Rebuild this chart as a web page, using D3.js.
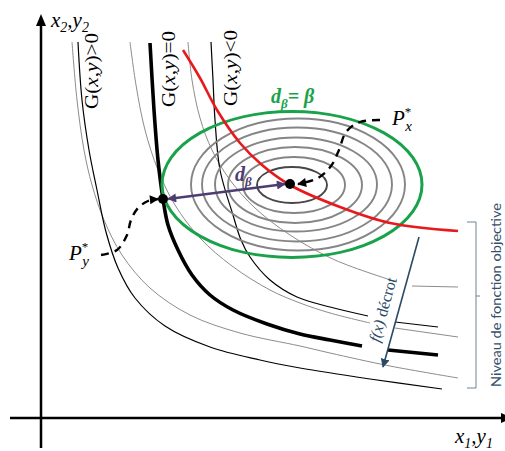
<!DOCTYPE html>
<html><head><meta charset="utf-8">
<script src="https://cdn.jsdelivr.net/npm/d3@7"></script>
<style>html,body{margin:0;padding:0;background:#fff;overflow:hidden}</style>
</head><body>
<svg id="c" width="505" height="451"></svg>
<script>
// ---- data (units from origin, x right, y up) ----
const xAxisExtent = [-31, 470];
const yAxisExtent = [-30, 402];
// constraint curves G(x,y)
const curveGpos = [[37,376],[41,318],[48,268],[56,228],[65,186],[77,150],[94,120],[124,92],[169,71],[219,58],[259,50],[329,39],[401,29]];
const curveGzero1 = [[109,375],[113,308],[117,258],[122,219],[127,193],[137,168],[151,143],[169,123],[192,108],[226,94],[259,84],[289,78],[321,72]];
const curveGzero2 = [[347,68],[397,63]];
const curveGneg1 = [[170,376],[172,338],[174,298],[179,248],[192,203],[200,178],[209,161],[229,138],[256,121],[289,111],[327,102]];
const curveGneg2 = [[354,96],[397,91]];
// objective level lines
const level1 = [[31,376],[36,318],[43,268],[51,233],[63,198],[81,163],[109,130],[149,103],[199,85],[259,72],[289,65],[349,52],[417,40]];
const level2a = [[89,376],[95,333],[104,288],[117,248],[134,213],[159,180],[191,152],[229,128],[259,115],[289,105],[329,95]];
const level2b = [[354,90],[417,81]];
const level3a = [[147,376],[151,338],[159,300],[171,268],[189,238],[214,210],[249,183],[294,158],[356,136]];
const level3b = [[371,132],[417,131]];
// red curve
const redCurve = [[142,368],[159,340],[176,308],[199,275],[221,253],[249,233],[299,211],[349,195],[417,187]];
// ellipses: [cx, cy, rx, ry]
const greenEllipse = [251, 233.5, 130, 73];
const ringCx = [251, 253, 254, 255, 256, 257];
const ringCy = [233, 233, 233, 233.5, 233.5, 233.5];
const ringRx = [35, 51, 67, 81, 95, 107];
const ringRy = [18, 28, 38, 47, 57, 66];
// points
const pointPy = [122, 219];
const pointPx = [249, 234];
// dashed paths
const dashPx = [[339,298],[319,296],[305,286],[298,268],[290,252],[277,240],[257,234]];
const dashPy = [[60,163],[76,168],[86,183],[90,198],[97,210],[107,217],[117,219]];
// f(x) arrow
const fArrow = [[378,181],[342,51]];
// bracket: x, top, bottom, mid, left
const bracket = {x:435, top:196, bottom:30, mid:122, left:426};
const gLabels = [
  {pos:[57,298], op:">"},
  {pos:[134,300], op:"="},
  {pos:[196,301], op:"<"}
];

// ---- scales ----
const x = d3.scaleLinear().domain([0, 464]).range([41, 505]);
const y = d3.scaleLinear().domain([0, 403]).range([418, 15]);
const svg = d3.select("#c");

const defs = svg.append("defs");
function marker(id, color, w, h) {
  defs.append("marker").attr("id", id).attr("viewBox", "0 0 10 10")
    .attr("refX", 9).attr("refY", 5).attr("markerWidth", w).attr("markerHeight", h)
    .attr("orient", "auto-start-reverse").attr("markerUnits", "userSpaceOnUse")
    .append("path").attr("d", "M0,0 L10,5 L0,10 Z").attr("fill", color);
}
marker("mPurple", "#4e3d70", 11, 9);
marker("mBlack", "#000", 10, 9);
marker("mBlue", "#2b4a66", 9, 9);

const line = d3.line().x(d => x(d[0])).y(d => y(d[1])).curve(d3.curveCatmullRom.alpha(0.5));

// axes
svg.append("line").attr("x1", x(xAxisExtent[0])).attr("x2", x(xAxisExtent[1]) - 4)
  .attr("y1", y(0)).attr("y2", y(0)).attr("stroke", "#000").attr("stroke-width", 2.5);
svg.append("line").attr("x1", x(0)).attr("x2", x(0))
  .attr("y1", y(yAxisExtent[0])).attr("y2", y(yAxisExtent[1]) + 6).attr("stroke", "#000").attr("stroke-width", 2.5);
svg.append("path").attr("d", d3.line()([[x(0), y(yAxisExtent[1]) - 2], [x(0) - 5, y(yAxisExtent[1]) + 10], [x(0) + 5, y(yAxisExtent[1]) + 10]]) + "Z").attr("fill", "#000");
svg.append("path").attr("d", d3.line()([[x(xAxisExtent[1]) + 2, y(0)], [x(xAxisExtent[1]) - 10, y(0) - 5], [x(xAxisExtent[1]) - 10, y(0) + 5]]) + "Z").attr("fill", "#000");

// objective level lines (gray thin)
[level1, level2a, level2b, level3a, level3b].forEach(d => {
  svg.append("path").attr("d", line(d)).attr("fill", "none").attr("stroke", "#8c8c8c").attr("stroke-width", 1);
});
// constraint curves
[curveGpos, curveGneg1, curveGneg2].forEach(d => {
  svg.append("path").attr("d", line(d)).attr("fill", "none").attr("stroke", "#000").attr("stroke-width", 1.2);
});
[curveGzero1, curveGzero2].forEach(d => {
  svg.append("path").attr("d", line(d)).attr("fill", "none").attr("stroke", "#000").attr("stroke-width", 3.6);
});

// rings
ringRx.forEach((rx, i) => {
  svg.append("ellipse").attr("cx", x(ringCx[i])).attr("cy", y(ringCy[i]))
    .attr("rx", x(rx) - x(0)).attr("ry", y(0) - y(ringRy[i]))
    .attr("fill", "none").attr("stroke", i === 0 ? "#474747" : "#858585").attr("stroke-width", 1.9);
});
// green ellipse
svg.append("ellipse").attr("cx", x(greenEllipse[0])).attr("cy", y(greenEllipse[1]))
  .attr("rx", x(greenEllipse[2]) - x(0)).attr("ry", y(0) - y(greenEllipse[3]))
  .attr("fill", "none").attr("stroke", "#1aa24b").attr("stroke-width", 3);
// red curve
svg.append("path").attr("d", line(redCurve)).attr("fill", "none").attr("stroke", "#e8191c").attr("stroke-width", 2.6);

// purple distance arrow
svg.append("line").attr("x1", x(pointPy[0]) + 5).attr("y1", y(pointPy[1]))
  .attr("x2", x(pointPx[0]) - 5).attr("y2", y(pointPx[1]))
  .attr("stroke", "#4e3d70").attr("stroke-width", 2.4)
  .attr("marker-start", "url(#mPurple)").attr("marker-end", "url(#mPurple)");

// dashed arrows
[dashPx, dashPy].forEach(d => {
  svg.append("path").attr("d", line(d)).attr("fill", "none").attr("stroke", "#000")
    .attr("stroke-width", 2.4).attr("stroke-dasharray", "8,6").attr("marker-end", "url(#mBlack)");
});

// dots
[pointPy, pointPx].forEach(p => {
  svg.append("circle").attr("cx", x(p[0])).attr("cy", y(p[1])).attr("r", 5).attr("fill", "#000");
});

// f(x) decrot arrow
svg.append("line").attr("x1", x(fArrow[0][0])).attr("y1", y(fArrow[0][1]))
  .attr("x2", x(fArrow[1][0])).attr("y2", y(fArrow[1][1]))
  .attr("stroke", "#2b4a66").attr("stroke-width", 1.6).attr("marker-end", "url(#mBlue)");

// bracket
svg.append("path").attr("d", d3.line()([
  [x(bracket.left), y(bracket.top)], [x(bracket.x), y(bracket.top)],
  [x(bracket.x), y(bracket.bottom)], [x(bracket.left), y(bracket.bottom)]
])).attr("fill", "none").attr("stroke", "#6f8293").attr("stroke-width", 1);
svg.append("line").attr("x1", x(bracket.x)).attr("x2", x(bracket.x) + 4)
  .attr("y1", y(bracket.mid)).attr("y2", y(bracket.mid)).attr("stroke", "#6f8293").attr("stroke-width", 1);

// ---- texts ----
const serif = "'Liberation Serif','DejaVu Serif',serif";
gLabels.forEach(g => {
  const t = svg.append("text").attr("transform", `translate(${x(g.pos[0])},${y(g.pos[1]) - 11}) rotate(-90)`)
    .attr("font-family", serif).attr("font-size", 19).attr("fill", "#000")
    .attr("textLength", 76).attr("lengthAdjust", "spacingAndGlyphs");
  t.append("tspan").text("G(");
  t.append("tspan").attr("font-style", "italic").text("x");
  t.append("tspan").text(",");
  t.append("tspan").attr("font-style", "italic").text("y");
  t.append("tspan").text(")" + g.op + "0");
});

// axis labels
function axisLabel(px, py, a, b, sub) {
  const t = svg.append("text").attr("x", px).attr("y", py).attr("font-family", serif)
    .attr("font-size", 21).attr("font-style", "italic").attr("fill", "#000");
  t.append("tspan").text(a);
  t.append("tspan").attr("font-size", 14).attr("dy", 5).text(sub);
  t.append("tspan").attr("dy", -5).text(",");
  t.append("tspan").text(b);
  t.append("tspan").attr("font-size", 14).attr("dy", 5).text(sub);
}
axisLabel(51, 27, "x", "y", "2");
axisLabel(455, 443, "x", "y", "1");

// P labels
function pLabel(px, py, sub) {
  const t = svg.append("text").attr("x", px).attr("y", py).attr("font-family", serif)
    .attr("font-size", 21).attr("font-style", "italic").attr("fill", "#000");
  t.append("tspan").text("P");
  t.append("tspan").attr("font-size", 13).attr("dy", -9).attr("font-style", "normal").text("*");
  t.append("tspan").attr("font-size", 15).attr("dx", -6).attr("dy", 15).text(sub);
}
pLabel(392, 125, "x");
pLabel(69, 260, "y");

// d_beta labels
const dg = svg.append("text").attr("x", 271).attr("y", 103).attr("font-family", serif)
  .attr("font-size", 20).attr("font-weight", "bold").attr("font-style", "italic").attr("fill", "#1aa24b");
dg.append("tspan").text("d");
dg.append("tspan").attr("font-size", 13).attr("dy", 5).text("β");
dg.append("tspan").attr("dy", -5).text("= β");

const dp = svg.append("text").attr("x", 235).attr("y", 181).attr("font-family", serif)
  .attr("font-size", 20).attr("font-weight", "bold").attr("font-style", "italic").attr("fill", "#4e3d70");
dp.append("tspan").text("d");
dp.append("tspan").attr("font-size", 13).attr("dy", 5).text("β");

// f(x) decrot
const ft = svg.append("text").attr("transform", "translate(388,311) rotate(-74.5)")
  .attr("text-anchor", "middle").attr("font-family", serif).attr("font-size", 16).attr("fill", "#2b4a66");
ft.append("tspan").attr("font-style", "italic").text("f(x)");
ft.append("tspan").text(" décrot");

// side label
svg.append("text").attr("transform", "translate(501,387) rotate(-90)")
  .attr("font-family", "Lato, 'Open Sans', sans-serif").attr("font-size", 14).attr("fill", "#35506a")
  .attr("textLength", 184).attr("lengthAdjust", "spacingAndGlyphs")
  .text("Niveau de fonction objective");
</script>
</body></html>
